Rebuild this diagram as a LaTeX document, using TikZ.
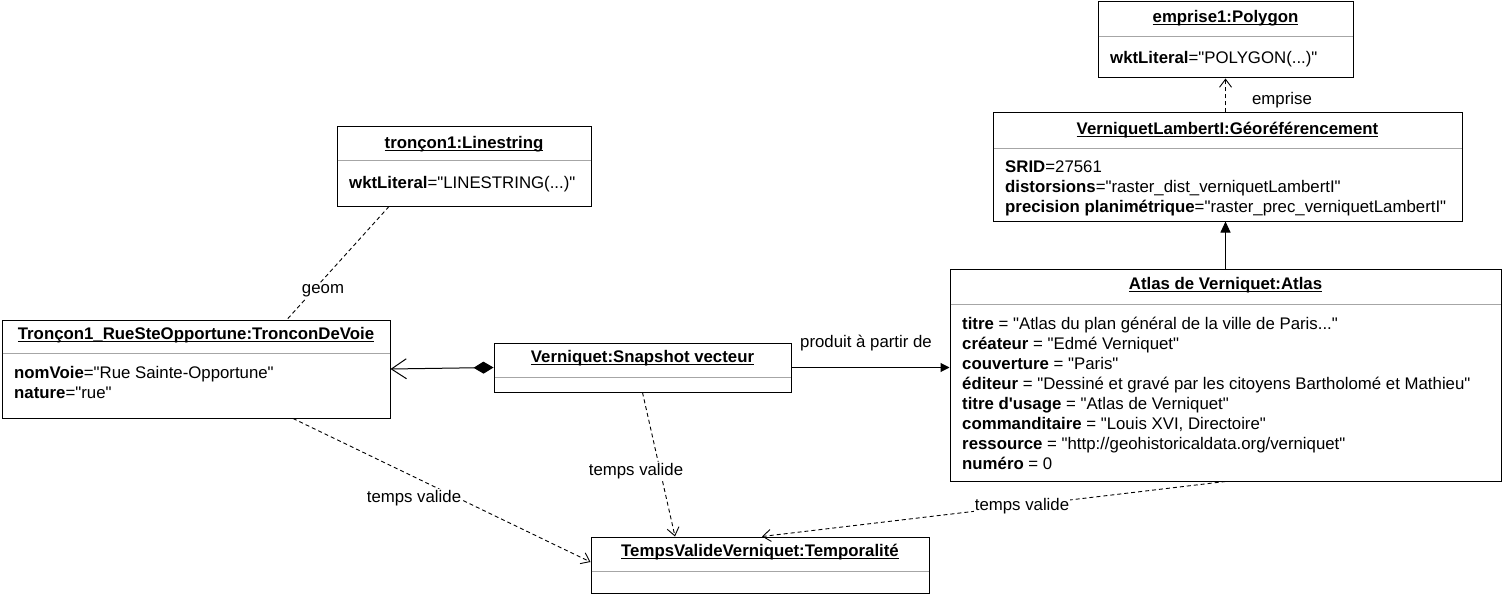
\documentclass[tikz,border=0pt]{standalone}
\usepackage{fontspec}
\setmainfont{Liberation Sans}[Ligatures=TeXOff]
\usetikzlibrary{arrows.meta}
\newcommand{\myul}[1]{\setbox0\hbox{#1}\rlap{\rule[-2.6pt]{\wd0}{0.9pt}}\box0}
\newcommand{\fst}{\rule{0pt}{13pt}}
\begin{document}
\begin{tikzpicture}[x=1pt,y=-1pt,
  font=\fontsize{16.8}{20}\selectfont,
  obj/.style={draw, line width=1pt, inner sep=0, rectangle},
  sepl/.style={draw=black!35, line width=1pt},
  ttl/.style={anchor=base, inner sep=0, font=\fontsize{16.8}{20}\selectfont\bfseries},
  attr/.style={anchor=north west, inner sep=0, align=left},
  lbl/.style={fill=white, inner sep=1pt},
  dep/.style={dash pattern=on 4pt off 3pt, line width=0.9pt, -{Straight Barb[length=8,width=12,line width=0.9pt]}},
  ]
\useasboundingbox[fill=white] (0,0) rectangle (1503,596);

% boxes
\node[obj, minimum width=255, minimum height=76] (poly) at (1225.5,40) {};
\node[obj, minimum width=469, minimum height=108] (geo) at (1227.5,167) {};
\node[obj, minimum width=254, minimum height=79] (line) at (464,166.5) {};
\node[obj, minimum width=388, minimum height=98] (tron) at (196,369) {};
\node[obj, minimum width=297, minimum height=49] (snap) at (642.5,367.5) {};
\node[obj, minimum width=551, minimum height=212] (atlas) at (1225.5,375) {};
\node[obj, minimum width=338, minimum height=56] (temp) at (760,565) {};

% separators
\draw[sepl] ([xshift=1,yshift=-35]poly.north west) -- ([xshift=-1,yshift=-35]poly.north east);
\draw[sepl] ([xshift=1,yshift=-36]geo.north west) -- ([xshift=-1,yshift=-36]geo.north east);
\draw[sepl] ([xshift=1,yshift=-34]line.north west) -- ([xshift=-1,yshift=-34]line.north east);
\draw[sepl] ([xshift=1,yshift=-34]tron.north west) -- ([xshift=-1,yshift=-34]tron.north east);
\draw[sepl] ([xshift=1,yshift=-35]snap.north west) -- ([xshift=-1,yshift=-35]snap.north east);
\draw[sepl] ([xshift=1,yshift=-36]atlas.north west) -- ([xshift=-1,yshift=-36]atlas.north east);
\draw[sepl] ([xshift=1,yshift=-35]temp.north west) -- ([xshift=-1,yshift=-35]temp.north east);

% titles
\node[ttl] (polyT) at (1225.5,22.5) {\myul{emprise1:Polygon}};
\node[ttl] (geoT) at (1227.5,134.5) {\myul{VerniquetLambertI:Géoréférencement}};
\node[ttl] (lineT) at (464,148.5) {\myul{tronçon1:Linestring}};
\node[ttl] (tronT) at (196,339.5) {\myul{Tronçon1\_RueSteOpportune:TronconDeVoie}};
\node[ttl] (snapT) at (642.5,362.5) {\myul{Verniquet:Snapshot vecteur}};
\node[ttl] (atlasT) at (1225.5,289.5) {\myul{Atlas de Verniquet:Atlas}};
\node[ttl] (tempT) at (760,556.5) {\myul{TempsValideVerniquet:Temporalité}};

% attributes
\node[attr] (polyA) at (1110,50.5) {\fst\textbf{wktLiteral}="POLYGON(...)"};
\node[attr] (geoA) at (1005,159.5) {\fst\textbf{SRID}=27561\\
  \textbf{distorsions}="raster\_dist\_verniquetLambertI"\\
  \textbf{precision planimétrique}="raster\_prec\_verniquetLambertI"};
\node[attr] (lineA) at (349,175.5) {\fst\textbf{wktLiteral}="LINESTRING(...)"};
\node[attr] (tronA) at (14,365.5) {\fst\textbf{nomVoie}="Rue Sainte-Opportune"\\
  \textbf{nature}="rue"};
\node[attr] (atlasA) at (962,316.5) {\fst\textbf{titre} = "Atlas du plan général de la ville de Paris..."\\
  \textbf{créateur} = "Edmé Verniquet"\\
  \textbf{couverture} = "Paris"\\
  \textbf{éditeur} = "Dessiné et gravé par les citoyens Bartholomé et Mathieu"\\
  \textbf{titre d'usage} = "Atlas de Verniquet"\\
  \textbf{commanditaire} = "Louis XVI, Directoire"\\
  \textbf{ressource} = "http://geohistoricaldata.org/verniquet"\\
  \textbf{numéro} = 0};

% connectors
\draw[dep] (geo.north -| poly.south) -- (poly.south);
\draw[line width=1pt, -{Triangle[length=11,width=10]}] (atlas.north) -- (atlas.north |- geo.south);
\draw[dash pattern=on 4pt off 3pt, line width=0.9pt] ([xshift=-75]line.south) -- ([xshift=91]tron.north);
\draw[line width=1pt, {Diamond[length=20,width=12]}-{Straight Barb[length=15,width=20,line width=1pt]}] (snap.west) -- (tron.east);
\draw[line width=1pt, -{Triangle[length=9,width=9]}] (snap.east) -- (snap.east -| atlas.west);
\draw[dep] (snap.south) -- ([xshift=-85]temp.north);
\draw[dep] ([xshift=97]tron.south) -- ([yshift=3]temp.west);
\draw[dep] (atlas.south) -- ([xshift=2]temp.north);

% labels
\node[lbl] (lEmprise) at (1282,100) {emprise};
\node[lbl] (lGeom) at (323,291) {geom};
\node[lbl] (lProduit) at (866,343) {produit à partir de};
\node[lbl] (lTv1) at (636,471) {temps valide};
\node[lbl] (lTv2) at (414,498) {temps valide};
\node[lbl] (lTv3) at (1022,506) {temps valide};
\end{tikzpicture}
\end{document}
